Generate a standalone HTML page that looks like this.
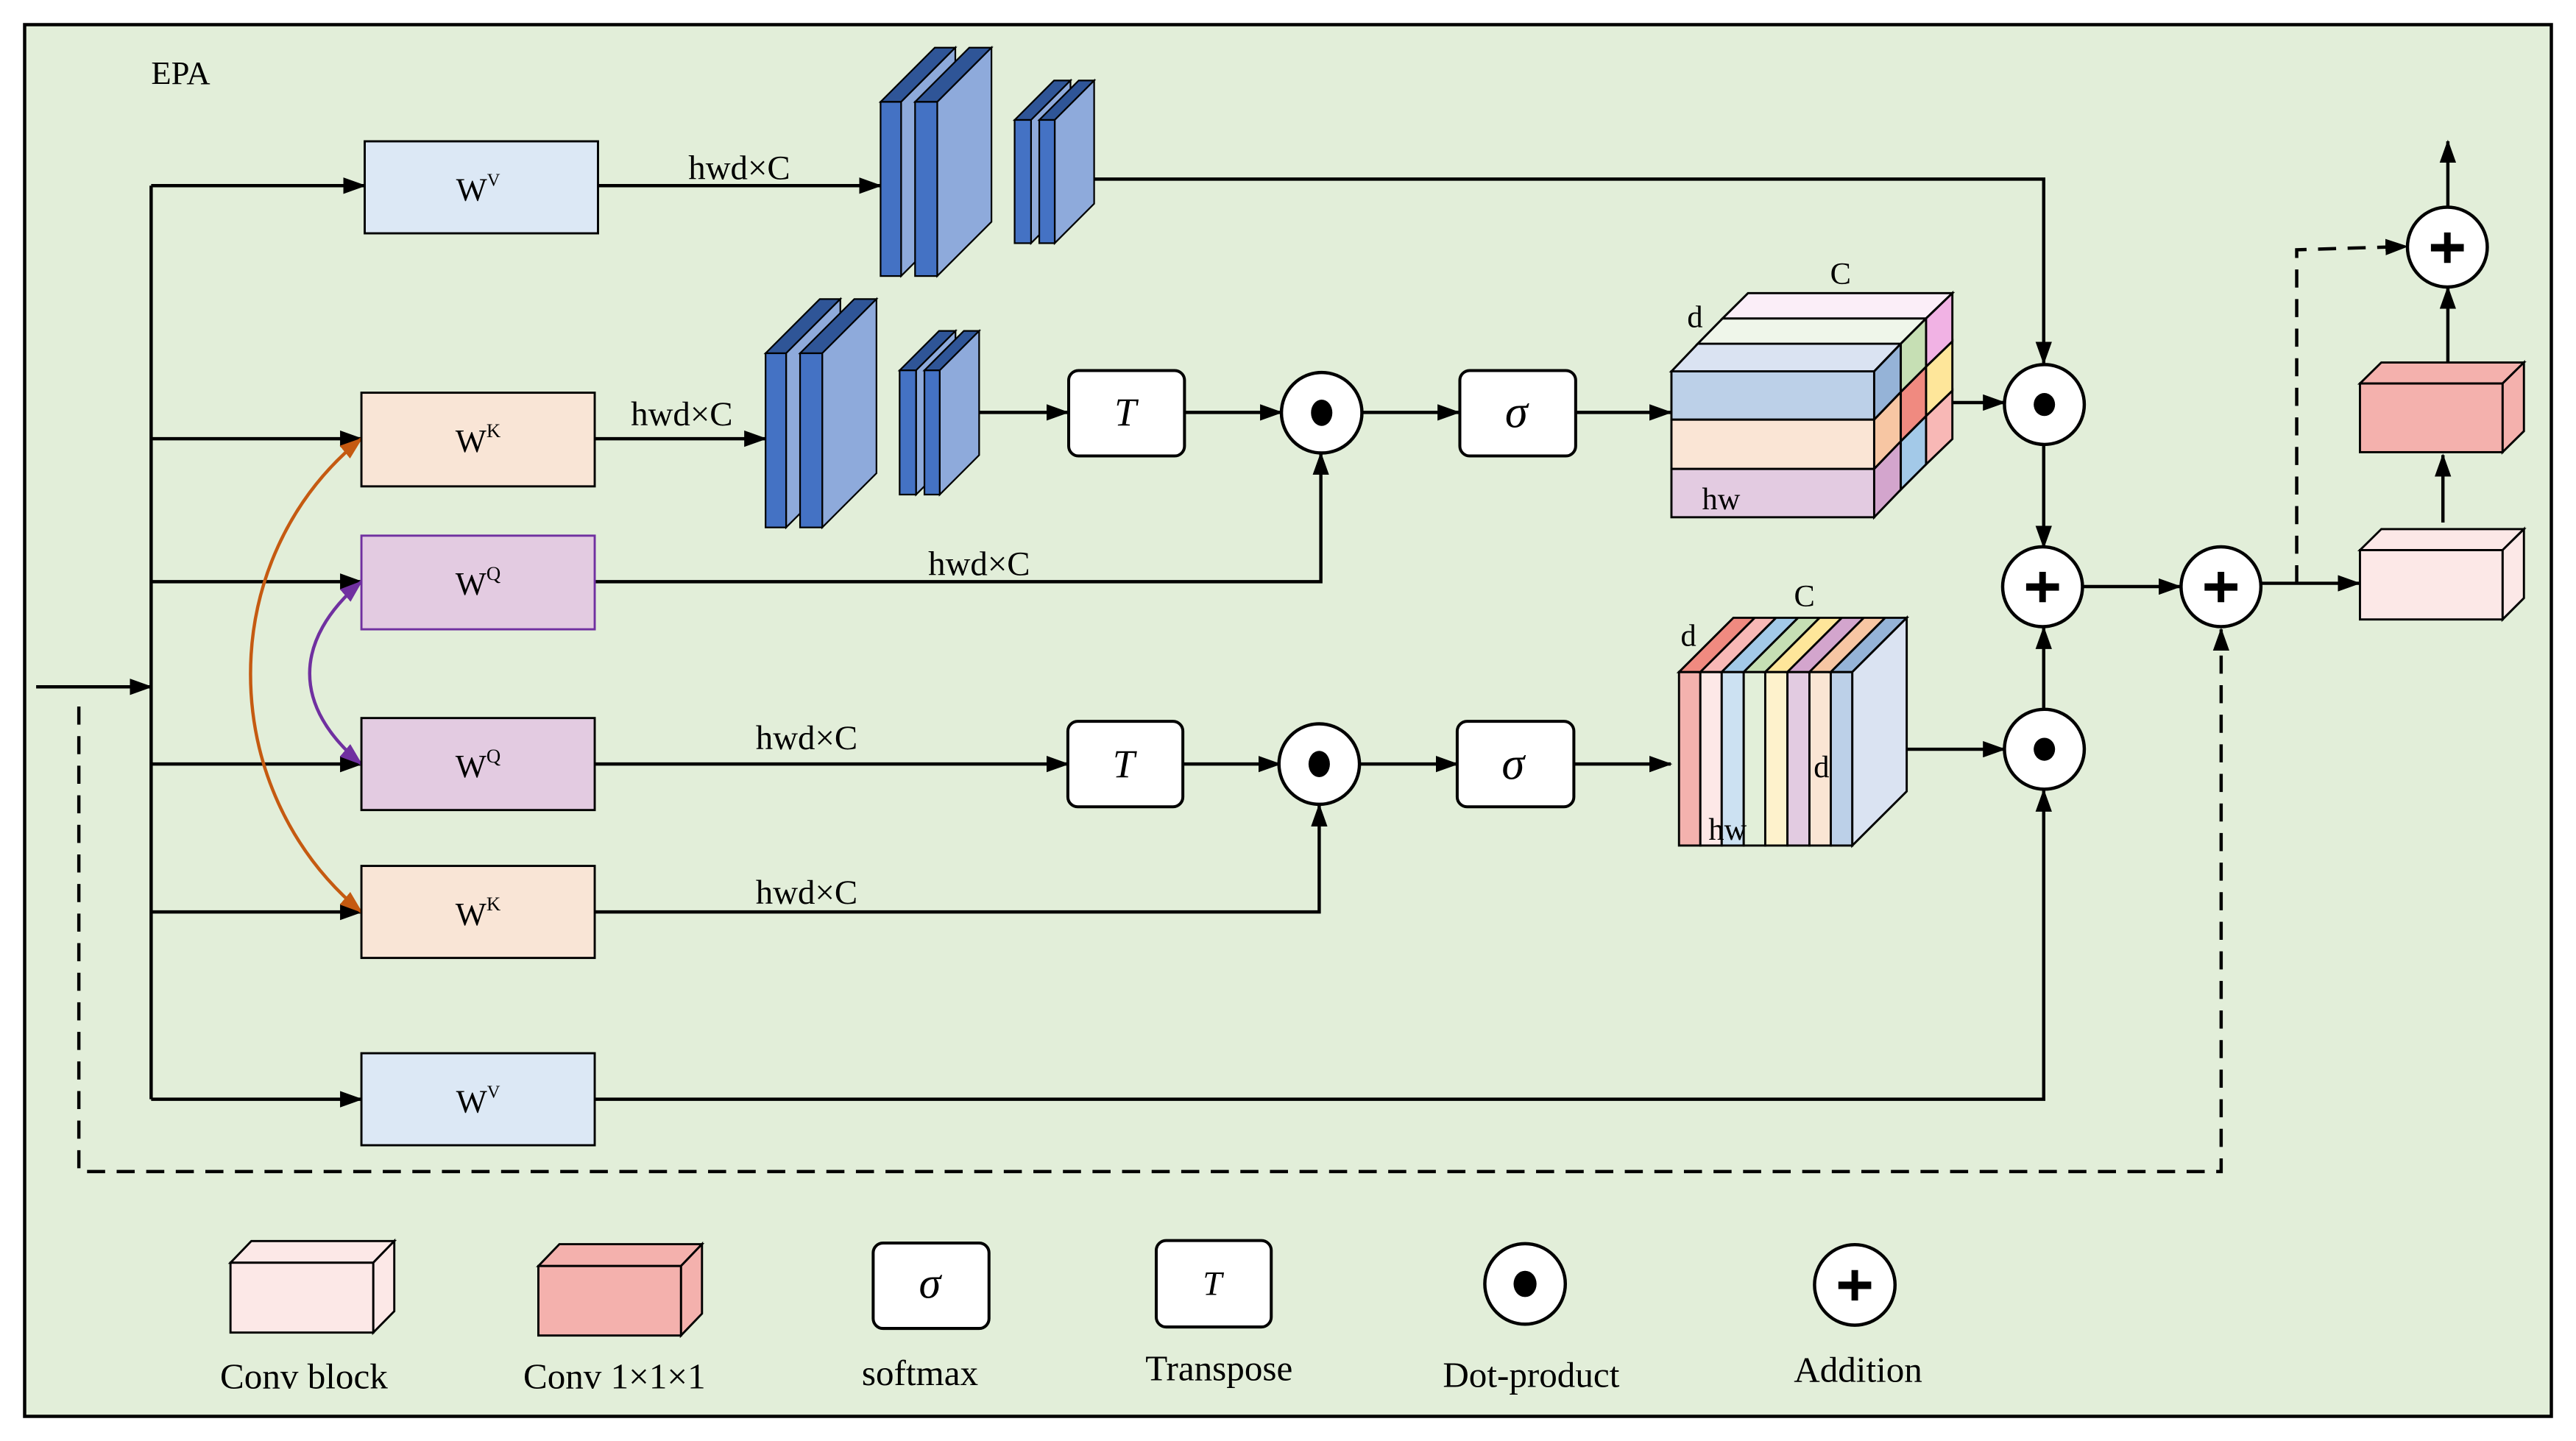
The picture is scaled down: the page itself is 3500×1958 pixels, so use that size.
<!DOCTYPE html>
<html><head><meta charset="utf-8"><style>
html,body{margin:0;padding:0;background:#fff;}
svg{display:block;}
text{font-family:"Liberation Serif",serif;fill:#000;}
</style></head><body>
<svg width="3500" height="1958" viewBox="0 0 1568 877" preserveAspectRatio="none" xmlns="http://www.w3.org/2000/svg">
<defs>
<marker id="ar" markerWidth="14" markerHeight="10" refX="13" refY="5" orient="auto" markerUnits="userSpaceOnUse"><path d="M0,0 L14,5 L0,10 Z" fill="#000"/></marker>
<marker id="ao" markerWidth="14" markerHeight="10" refX="13" refY="5" orient="auto-start-reverse" markerUnits="userSpaceOnUse"><path d="M0,0 L14,5 L0,10 Z" fill="#c55a11"/></marker>
<marker id="ap" markerWidth="14" markerHeight="10" refX="13" refY="5" orient="auto-start-reverse" markerUnits="userSpaceOnUse"><path d="M0,0 L14,5 L0,10 Z" fill="#7030a0"/></marker>
</defs>
<rect x="0" y="0" width="1568" height="877" fill="#fff"/>
<rect x="15" y="15" width="1538" height="847" fill="#e2eed9" stroke="#000" stroke-width="2"/>
<text x="92" y="51" font-size="20">EPA</text>

<g stroke="#000" stroke-width="2" fill="none">
<line x1="22" y1="418" x2="92" y2="418" marker-end="url(#ar)"/>
<line x1="92" y1="113" x2="92" y2="669"/>
<line x1="92" y1="113" x2="222" y2="113" marker-end="url(#ar)"/>
<line x1="92" y1="267" x2="220" y2="267" marker-end="url(#ar)"/>
<line x1="92" y1="354" x2="220" y2="354" marker-end="url(#ar)"/>
<line x1="92" y1="465" x2="220" y2="465" marker-end="url(#ar)"/>
<line x1="92" y1="555" x2="220" y2="555" marker-end="url(#ar)"/>
<line x1="92" y1="669" x2="220" y2="669" marker-end="url(#ar)"/>
<line x1="364" y1="113" x2="536" y2="113" marker-end="url(#ar)"/>
<polyline points="666,109 1244,109 1244,221" marker-end="url(#ar)"/>
<line x1="362" y1="267" x2="466" y2="267" marker-end="url(#ar)"/>
<line x1="596" y1="251" x2="650" y2="251" marker-end="url(#ar)"/>
<line x1="721" y1="251" x2="780" y2="251" marker-end="url(#ar)"/>
<line x1="829" y1="251" x2="888" y2="251" marker-end="url(#ar)"/>
<line x1="959" y1="251" x2="1017" y2="251" marker-end="url(#ar)"/>
<line x1="1188" y1="245" x2="1220" y2="245" marker-end="url(#ar)"/>
<polyline points="362,354 804,354 804,276" marker-end="url(#ar)"/>
<line x1="362" y1="465" x2="650" y2="465" marker-end="url(#ar)"/>
<line x1="720" y1="465" x2="779" y2="465" marker-end="url(#ar)"/>
<line x1="828" y1="465" x2="887" y2="465" marker-end="url(#ar)"/>
<line x1="958" y1="465" x2="1017" y2="465" marker-end="url(#ar)"/>
<polyline points="362,555 803,555 803,490" marker-end="url(#ar)"/>
<line x1="1161" y1="456" x2="1220" y2="456" marker-end="url(#ar)"/>
<polyline points="362,669 1244,669 1244,481" marker-end="url(#ar)"/>
<line x1="1244" y1="270" x2="1244" y2="333" marker-end="url(#ar)"/>
<line x1="1244" y1="432" x2="1244" y2="382" marker-end="url(#ar)"/>
<line x1="1268" y1="357" x2="1327" y2="357" marker-end="url(#ar)"/>
<line x1="1376" y1="355" x2="1436" y2="355" marker-end="url(#ar)"/>
<line x1="1487" y1="318" x2="1487" y2="277" marker-end="url(#ar)"/>
<line x1="1490" y1="226" x2="1490" y2="175" marker-end="url(#ar)"/>
<line x1="1490" y1="126" x2="1490" y2="86" marker-end="url(#ar)"/>
</g>
<g stroke="#000" stroke-width="2" fill="none" stroke-dasharray="11,7">
<polyline points="48,430 48,713 1352,713 1352,383" marker-end="url(#ar)"/>
<polyline points="1398,355 1398,152 1465,150" marker-end="url(#ar)"/>
</g>
<path d="M220,555 C130,480 130,340 220,267" stroke="#c55a11" stroke-width="2" fill="none" marker-start="url(#ao)" marker-end="url(#ao)"/>
<path d="M220,465 C178,430 178,390 220,354" stroke="#7030a0" stroke-width="2" fill="none" marker-start="url(#ap)" marker-end="url(#ap)"/>

<g stroke="#000" stroke-width="1.3">
<rect x="222" y="86" width="142" height="56" fill="#dce8f5"/>
<rect x="220" y="239" width="142" height="57" fill="#f9e5d6"/>
<rect x="220" y="326" width="142" height="57" fill="#e3cbe1" stroke="#7030a0"/>
<rect x="220" y="437" width="142" height="56" fill="#e3cbe1"/>
<rect x="220" y="527" width="142" height="56" fill="#f9e5d6"/>
<rect x="220" y="641" width="142" height="56" fill="#dce8f5"/>
</g>
<g font-size="20" text-anchor="middle">
<text x="291" y="122">W<tspan font-size="11" dy="-9">V</tspan></text>
<text x="291" y="275">W<tspan font-size="12" dy="-9">K</tspan></text>
<text x="291" y="362">W<tspan font-size="12" dy="-9">Q</tspan></text>
<text x="291" y="473">W<tspan font-size="12" dy="-9">Q</tspan></text>
<text x="291" y="563">W<tspan font-size="12" dy="-9">K</tspan></text>
<text x="291" y="677">W<tspan font-size="11" dy="-9">V</tspan></text>
</g>
<g font-size="21" text-anchor="middle">
<text x="450" y="109">hwd×C</text>
<text x="415" y="259">hwd×C</text>
<text x="596" y="350">hwd×C</text>
<text x="491" y="456">hwd×C</text>
<text x="491" y="550">hwd×C</text>
</g>

<g stroke="#000" stroke-width="1">
<polygon points="536,62 569,29 581.5,29 548.5,62" fill="#2f5597"/><polygon points="548.5,62 581.5,29 581.5,135 548.5,168" fill="#8eaadb"/><rect x="536" y="62" width="12.5" height="106" fill="#4472c4"/>
<polygon points="557,62 590,29 603.5,29 570.5,62" fill="#2f5597"/><polygon points="570.5,62 603.5,29 603.5,135 570.5,168" fill="#8eaadb"/><rect x="557" y="62" width="13.5" height="106" fill="#4472c4"/>
<polygon points="617.6,73 641.6,49 651.6,49 627.6,73" fill="#2f5597"/><polygon points="627.6,73 651.6,49 651.6,124 627.6,148" fill="#8eaadb"/><rect x="617.6" y="73" width="10" height="75" fill="#4472c4"/>
<polygon points="632.6,73 656.6,49 666,49 642,73" fill="#2f5597"/><polygon points="642,73 666,49 666,124 642,148" fill="#8eaadb"/><rect x="632.6" y="73" width="9.4" height="75" fill="#4472c4"/>
<polygon points="466,215 499,182 511.5,182 478.5,215" fill="#2f5597"/><polygon points="478.5,215 511.5,182 511.5,288 478.5,321" fill="#8eaadb"/><rect x="466" y="215" width="12.5" height="106" fill="#4472c4"/>
<polygon points="487,215 520,182 533.5,182 500.5,215" fill="#2f5597"/><polygon points="500.5,215 533.5,182 533.5,288 500.5,321" fill="#8eaadb"/><rect x="487" y="215" width="13.5" height="106" fill="#4472c4"/>
<polygon points="547.6,225.4 571.6,201.4 581.6,201.4 557.6,225.4" fill="#2f5597"/><polygon points="557.6,225.4 581.6,201.4 581.6,277 557.6,301" fill="#8eaadb"/><rect x="547.6" y="225.4" width="10" height="75.6" fill="#4472c4"/>
<polygon points="562.7,225.4 586.7,201.4 596,201.4 572,225.4" fill="#2f5597"/><polygon points="572,225.4 596,201.4 596,277 572,301" fill="#8eaadb"/><rect x="562.7" y="225.4" width="9.3" height="75.6" fill="#4472c4"/>
</g>

<g stroke="#000" stroke-width="1.8" fill="#fff">
<rect x="650.5" y="225.5" width="70.5" height="52" rx="6"/>
<rect x="888.6" y="225.5" width="70.5" height="52" rx="6"/>
<rect x="650" y="439" width="70" height="52" rx="6"/>
<rect x="887" y="439" width="71" height="52" rx="6"/>
<rect x="531.5" y="756.5" width="70.5" height="52" rx="6"/>
<rect x="703.8" y="755" width="70" height="52.6" rx="6"/>
</g>
<g font-size="24" font-style="italic" text-anchor="middle">
<text x="685" y="259">T</text><text x="923" y="260" font-size="28">σ</text>
<text x="684" y="473">T</text><text x="921" y="474" font-size="28">σ</text>
<text x="566" y="790" font-size="27">σ</text><text x="738" y="788" font-size="21">T</text>
</g>

<g stroke="#000" stroke-width="2" fill="#fff">
<circle cx="804.5" cy="251.2" r="24.5"/>
<circle cx="803" cy="465" r="24.5"/>
<circle cx="1244.4" cy="246.2" r="24.3"/>
<circle cx="1244.4" cy="456" r="24.3"/>
<circle cx="1243.3" cy="357.1" r="24.3"/>
<circle cx="1351.9" cy="357.1" r="24.3"/>
<circle cx="1489.7" cy="150.4" r="24.3"/>
<circle cx="928.3" cy="781.4" r="24.5"/>
<circle cx="1129" cy="782" r="24.5"/>
</g>
<g fill="#000">
<ellipse cx="804.5" cy="251.2" rx="6.5" ry="8"/>
<ellipse cx="803" cy="465" rx="6.5" ry="8"/>
<ellipse cx="1244.4" cy="246.2" rx="6.5" ry="7"/>
<ellipse cx="1244.4" cy="456" rx="6.5" ry="7"/>
<ellipse cx="928.3" cy="781.4" rx="7" ry="8"/>
<path d="M1241.3,348 h4 v7 h8 v4.5 h-8 v7 h-4 v-7 h-8 v-4.5 h8 z"/>
<path d="M1349.9,348 h4 v7 h8 v4.5 h-8 v7 h-4 v-7 h-8 v-4.5 h8 z"/>
<path d="M1487.7,141.5 h4 v7 h8 v4.5 h-8 v7 h-4 v-7 h-8 v-4.5 h8 z"/>
<path d="M1127,773 h4 v7 h8 v4.5 h-8 v7 h-4 v-7 h-8 v-4.5 h8 z"/>
</g>

<g stroke="#000" stroke-width="1.3">
<rect x="1017.4" y="226" width="123.4" height="29.4" fill="#bcd0e8"/>
<rect x="1017.4" y="255.4" width="123.4" height="30" fill="#fae5d5"/>
<rect x="1017.4" y="285.4" width="123.4" height="29.4" fill="#e3cbe1"/>
<polygon points="1017.4,226 1033.4,209.2 1157,209.2 1140.8,226" fill="#dae3f2"/>
<polygon points="1033.4,209.2 1048.5,193.8 1172.4,193.8 1157,209.2" fill="#eff6ea"/>
<polygon points="1048.5,193.8 1064,178.4 1188.4,178.4 1172.4,193.8" fill="#fbeef8"/>
<polygon points="1140.8,226 1157,209.2 1157,238.6 1140.8,255.4" fill="#95b3d7"/>
<polygon points="1140.8,255.4 1157,238.6 1157,268.6 1140.8,285.4" fill="#f7c6a3"/>
<polygon points="1140.8,285.4 1157,268.6 1157,298 1140.8,314.8" fill="#d3a5cd"/>
<polygon points="1157,209.2 1172.4,193.8 1172.4,223.2 1157,238.6" fill="#c6dfb4"/>
<polygon points="1157,238.6 1172.4,223.2 1172.4,253.2 1157,268.6" fill="#f08a80"/>
<polygon points="1157,268.6 1172.4,253.2 1172.4,282.6 1157,298" fill="#a3c9e8"/>
<polygon points="1172.4,193.8 1188.4,178.4 1188.4,207.8 1172.4,223.2" fill="#f1b2e4"/>
<polygon points="1172.4,223.2 1188.4,207.8 1188.4,237.8 1172.4,253.2" fill="#fee69a"/>
<polygon points="1172.4,253.2 1188.4,237.8 1188.4,267.2 1172.4,282.6" fill="#f8b8b6"/>
</g>
<g font-size="19">
<text x="1114" y="173">C</text><text x="1027" y="199">d</text><text x="1036" y="310">hw</text>
</g>

<g stroke="#000" stroke-width="1.3">
<rect x="1022" y="409" width="13" height="105.6" fill="#f4b2ae"/>
<rect x="1035" y="409" width="13" height="105.6" fill="#fde8e7"/>
<rect x="1048" y="409" width="13.4" height="105.6" fill="#cce1f2"/>
<rect x="1061.4" y="409" width="13.1" height="105.6" fill="#e2efd9"/>
<rect x="1074.5" y="409" width="13.5" height="105.6" fill="#fef2cc"/>
<rect x="1088" y="409" width="13.4" height="105.6" fill="#e2cbe1"/>
<rect x="1101.4" y="409" width="13" height="105.6" fill="#fae5d4"/>
<rect x="1114.4" y="409" width="13.1" height="105.6" fill="#bcd0e8"/>
<polygon points="1022,409 1055.1,376 1068.1,376 1035,409" fill="#f08a80"/>
<polygon points="1035,409 1068.1,376 1081.1,376 1048,409" fill="#f8b8b6"/>
<polygon points="1048,409 1081.1,376 1094.5,376 1061.4,409" fill="#a3c9e8"/>
<polygon points="1061.4,409 1094.5,376 1107.6,376 1074.5,409" fill="#c6dfb4"/>
<polygon points="1074.5,409 1107.6,376 1121.1,376 1088,409" fill="#fee69a"/>
<polygon points="1088,409 1121.1,376 1134.5,376 1101.4,409" fill="#d3a5cd"/>
<polygon points="1101.4,409 1134.5,376 1147.5,376 1114.4,409" fill="#f7c6a3"/>
<polygon points="1114.4,409 1147.5,376 1160.6,376 1127.5,409" fill="#95b3d7"/>
<polygon points="1127.5,409 1160.6,376 1160.6,481.6 1127.5,514.6" fill="#dae3f2"/>
</g>
<g font-size="19">
<text x="1092" y="369">C</text><text x="1023" y="393">d</text><text x="1104" y="473">d</text><text x="1040" y="511">hw</text>
</g>

<g stroke="#000" stroke-width="1.3">
<polygon points="1436.5,334.8 1449.5,322 1536.3,322 1523.3,334.8" fill="#fce8e7"/>
<polygon points="1523.3,334.8 1536.3,322 1536.3,364 1523.3,377" fill="#fce8e7"/>
<rect x="1436.5" y="334.8" width="86.8" height="42.2" fill="#fce8e7"/>
<polygon points="1436.5,233.4 1449.5,220.6 1536.3,220.6 1523.3,233.4" fill="#f4b1ad"/>
<polygon points="1523.3,233.4 1536.3,220.6 1536.3,262.4 1523.3,275.2" fill="#f4b1ad"/>
<rect x="1436.5" y="233.4" width="86.8" height="41.8" fill="#f4b1ad"/>
<polygon points="140.3,768.5 153,755.3 240,755.3 227.2,768.5" fill="#fce8e7"/>
<polygon points="227.2,768.5 240,755.3 240,798 227.2,811" fill="#fce8e7"/>
<rect x="140.3" y="768.5" width="86.9" height="42.5" fill="#fce8e7"/>
<polygon points="327.7,770.5 340.5,757.2 427.3,757.2 414.5,770.5" fill="#f4b1ad"/>
<polygon points="414.5,770.5 427.3,757.2 427.3,799.5 414.5,812.8" fill="#f4b1ad"/>
<rect x="327.7" y="770.5" width="86.8" height="42.3" fill="#f4b1ad"/>
</g>
<g font-size="22" text-anchor="middle">
<text x="185" y="845">Conv block</text>
<text x="374" y="845">Conv 1×1×1</text>
<text x="560" y="843">softmax</text>
<text x="742" y="840">Transpose</text>
<text x="932" y="844">Dot-product</text>
<text x="1131" y="841">Addition</text>
</g>
</svg>
</body></html>
